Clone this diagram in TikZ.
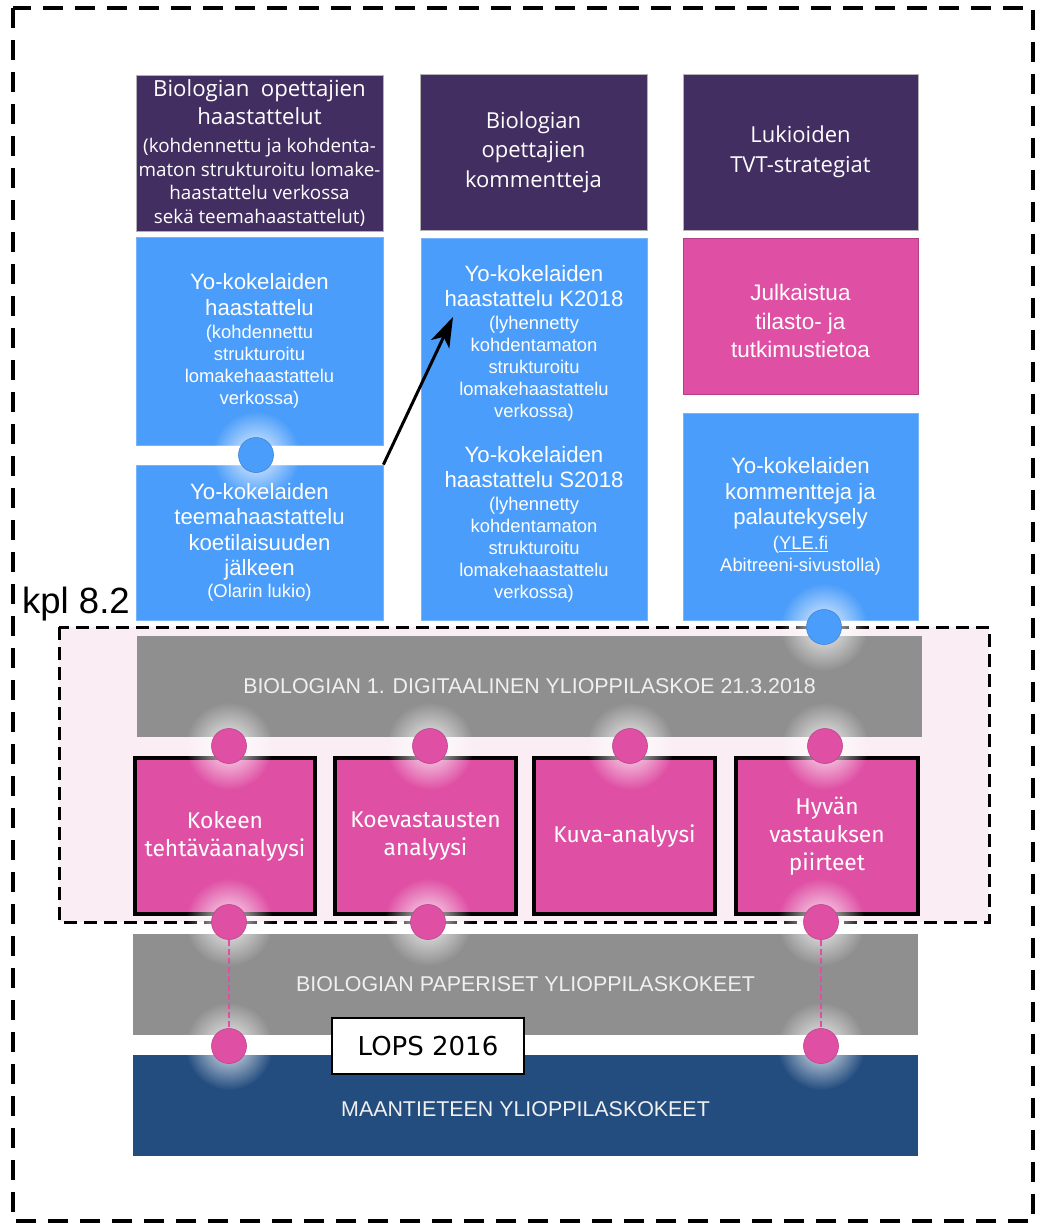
\documentclass[tikz,border=0pt]{standalone}
\usepackage{fontspec}
\setmainfont{Liberation Sans}
\newfontfamily\fopen{Open Sans}
\newfontfamily\fdeja{DejaVu Sans}
\newfontfamily\ffira{Fira Sans}
\usetikzlibrary{arrows.meta,fadings}

\definecolor{plum}{HTML}{432E62}
\definecolor{sky}{HTML}{4A9DFA}
\definecolor{rose}{HTML}{DF4FA4}
\definecolor{slate}{HTML}{8F8F8F}
\definecolor{navy}{HTML}{234D7F}
\definecolor{blush}{HTML}{FAEEF4}

\newcommand\plbig{\fopen\fontsize{22.2}{24}\selectfont}
\newcommand\plsmall{\fopen\fontsize{18.8}{23.5}\selectfont}
\newcommand\skybig{\fontsize{22.2}{25.5}\selectfont}
\newcommand\skysmall{\fontsize{18.4}{22}\selectfont}

\tikzfading[name=glowfade, inner color=transparent!0, outer color=transparent!100]

\tikzset{
  plumbox/.style={rectangle, inner sep=0pt, fill=plum, draw=gray!60, line width=0.6pt,
    text=white, align=center},
  skybox/.style={rectangle, inner sep=0pt, fill=sky, draw=sky!75!white, line width=0.8pt,
    text=white, align=center},
  rosebox/.style={rectangle, inner sep=0pt, fill=rose, draw=rose!80!black, line width=0.8pt,
    text=white, align=center},
  band/.style={rectangle, inner sep=0pt, text=white!94!black, font=\fontsize{21.4}{24}\selectfont},
  examcard/.style={rectangle, inner sep=0pt, fill=rose, draw=black, line width=3.5pt,
    text=white, align=center, font=\ffira\fontsize{22.8}{28}\selectfont},
  label/.style={inner sep=0pt, text=white, align=center},
  pinkdot/.style={circle, inner sep=0pt, minimum size=35pt, fill=rose, draw=rose!85!black, line width=0.6pt},
  bluedot/.style={circle, inner sep=0pt, minimum size=35pt, fill=sky, draw=sky!85!black, line width=0.6pt},
  glow/.style={fill=white, opacity=0.9, path fading=glowfade},
  outerframe/.style={draw=black, line width=4pt, dash pattern=on 20pt off 12pt},
  chapterframe/.style={draw=black, fill=blush, line width=3pt, dash pattern=on 13pt off 7pt},
  tether/.style={draw=rose, line width=1.2pt, dash pattern=on 6pt off 3pt},
  pointer/.style={draw=black, line width=3pt, -{Stealth[length=30pt, width=20pt, inset=8pt]}},
}

\begin{document}
\begin{tikzpicture}[x=1pt, y=-1pt]
\useasboundingbox (0,0) rectangle (1039,1223);

% outer frame and chapter label
\draw[outerframe] (13,8) rectangle (1033,1221);
\node[anchor=base west, inner sep=0pt, font=\fontsize{36.5}{40}\selectfont] (kpl) at (22,613) {kpl 8.2};

% chapter 8.2 region
\draw[chapterframe] (59,627) rectangle (989,922);

% top row: teacher sources and strategies
\node[plumbox, minimum width=247pt, minimum height=156pt, font=\plsmall] (teachint) at (259.5,153)
  {{\plbig Biologian\ \ opettajien}\\[4.5pt]{\plbig haastattelut}\\[4.5pt](kohdennettu ja kohdenta-\\maton strukturoitu lomake-\\haastattelu verkossa\\sekä teemahaastattelut)};
\node[plumbox, minimum width=227pt, minimum height=156pt, font=\fopen\fontsize{22}{29.5}\selectfont] (teachcom) at (533.5,152)
  {Biologian\\opettajien\\kommentteja};
\node[plumbox, minimum width=235pt, minimum height=156pt, font=\fopen\fontsize{22}{29.5}\selectfont] (tvt) at (800.5,152)
  {Lukioiden\\TVT-strategiat};

% student interviews
\node[skybox, minimum width=247pt, minimum height=208pt, font=\skysmall] (stuint) at (259.5,341)
  {{\skybig Yo-kokelaiden}\\[4pt]{\skybig haastattelu}\\[1pt](kohdennettu\\strukturoitu\\lomakehaastattelu\\verkossa)};
\node[skybox, minimum width=247pt, minimum height=155pt, font=\skybig] (stutheme) at (259.5,542.5)
  {Yo-kokelaiden\\teemahaastattelu\\koetilaisuuden\\jälkeen\\[-3.5pt]{\skysmall (Olarin lukio)}};
\node[skybox, minimum width=226pt, minimum height=382pt] (stuweb) at (534,429) {};
\node[label, font=\skysmall] (k2018) at (534,343)
  {{\skybig Yo-kokelaiden}\\[3pt]{\skybig haastattelu K2018}\\[1pt](lyhennetty\\kohdentamaton\\strukturoitu\\lomakehaastattelu\\verkossa)};
\node[label, font=\skysmall] (s2018) at (534,524)
  {{\skybig Yo-kokelaiden}\\[3pt]{\skybig haastattelu S2018}\\[1pt](lyhennetty\\kohdentamaton\\strukturoitu\\lomakehaastattelu\\verkossa)};

% published data and feedback
\node[rosebox, minimum width=235pt, minimum height=156pt] (stats) at (800.5,316) {};
\node[label, font=\fontsize{22.5}{28.5}\selectfont] (statstext) at (800.5,321)
  {Julkaistua\\tilasto- ja\\tutkimustietoa};
\node[skybox, minimum width=235pt, minimum height=207pt, font=\skysmall] (feedback) at (800.5,516.5)
  {{\skybig Yo-kokelaiden}\\[3.5pt]{\skybig kommentteja ja}\\[3.5pt]{\skybig palautekysely}\\[3pt](\underline{YLE.fi}\\Abitreeni-sivustolla)};

% exam bands
\node[band, fill=slate, minimum width=785pt, minimum height=101pt] (digiexam) at (529.5,686.5)
  {BIOLOGIAN 1. DIGITAALINEN YLIOPPILASKOE 21.3.2018};
\node[band, fill=slate, minimum width=785pt, minimum height=101pt] (paperexam) at (525.5,984.5)
  {BIOLOGIAN PAPERISET YLIOPPILASKOKEET};
\node[band, fill=navy, minimum width=785pt, minimum height=101pt] (geoexam) at (525.5,1105.5) {};
\node[band] (geotext) at (525.5,1109) {MAANTIETEEN YLIOPPILASKOKEET};

% analysis cards
\node[examcard, minimum width=180pt, minimum height=156pt] (taskan) at (225,836) {Kokeen\\tehtäväanalyysi};
\node[examcard, minimum width=181pt, minimum height=156pt] (answan) at (425.5,836) {Koevastausten\\analyysi};
\node[examcard, minimum width=181pt, minimum height=156pt] (imgan) at (624.5,836) {Kuva-analyysi};
\node[examcard, minimum width=182pt, minimum height=156pt] (goodans) at (827,836) {Hyvän\\vastauksen\\piirteet};

% curriculum tag
\node[rectangle, draw=black, fill=white, line width=1.5pt, minimum width=192pt, minimum height=56pt,
  inner sep=0pt, font=\fdeja\fontsize{26}{30}\selectfont] (lops) at (428,1046) {LOPS 2016};

% glows behind the junction dots
\foreach \gx/\gy in {256/455, 824/627, 229/746, 430/746, 630/746, 825/746,
                     229/922, 428/922, 821/922, 229/1046, 821/1046}
  \fill[glow] (\gx,\gy) circle (44);

% junction dots
\node[bluedot] (jb1) at (256,455) {};
\node[bluedot] (jb2) at (824,627) {};
\node[pinkdot] (jt1) at (229,746) {};
\node[pinkdot] (jt2) at (430,746) {};
\node[pinkdot] (jt3) at (630,746) {};
\node[pinkdot] (jt4) at (825,746) {};
\node[pinkdot] (jm1) at (229,922) {};
\node[pinkdot] (jm2) at (428,922) {};
\node[pinkdot] (jm4) at (821,922) {};
\node[pinkdot] (jl1) at (229,1046) {};
\node[pinkdot] (jl4) at (821,1046) {};

% connectors
\draw[tether] (jm1.south) -- (jl1.north);
\draw[tether] (jm4.south) -- (jl4.north);
\coordinate (tip) at (453,317);
\draw[pointer] (stutheme.north east) -- (tip);
\end{tikzpicture}
\end{document}
